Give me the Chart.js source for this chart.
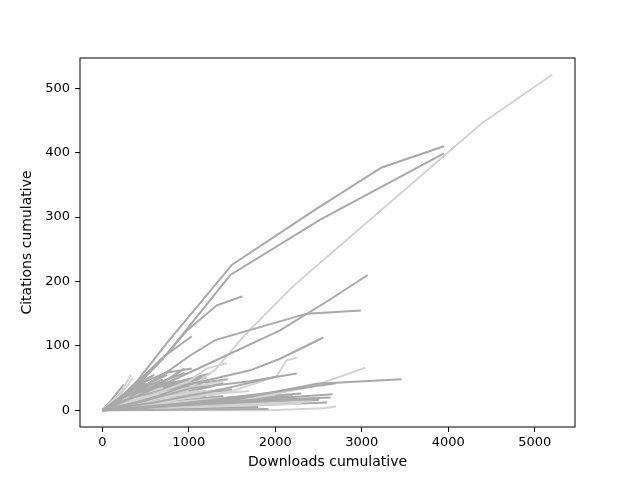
<!DOCTYPE html>
<html>
<head>
<meta charset="utf-8">
<script src="https://cdn.jsdelivr.net/npm/chart.js@4"></script>
<style>
  html, body { margin: 0; padding: 0; background: #fff; }
</style>
</head>
<body>
<canvas id="myChart" width="640" height="480"></canvas>
<script>
const ctx = document.getElementById('myChart').getContext('2d');

// Axis ticks
const xTicks = [0, 1000, 2000, 3000, 4000, 5000];
const yTicks = [0, 100, 200, 300, 400, 500];

// Papers drawn in dark gray: cumulative downloads / citations per paper
const darkDownloads = [
  [0, 150, 400, 750, 1500, 2480, 3230, 3950],
  [0, 200, 450, 750, 1480, 2520, 3950],
  [0, 300, 700, 980, 1324, 1620],
  [0, 400, 1016, 2055, 2633, 3068],
  [0, 300, 700, 1016, 1305, 2363, 2990],
  [0, 500, 1000, 1709, 2055, 2556],
  [0, 300, 708, 1035],
  [0, 500, 1016, 1709, 2248],
  [0, 800, 1709, 2480, 3460],
  [0, 700, 1500, 2663],
  [0, 900, 1800, 2702],
  [0, 1000, 2510],
  [0, 1000, 1921],
  [0, 600, 1300, 2036]
];
const darkCitations = [
  [0, 12, 45, 105, 226, 313, 377, 410],
  [0, 15, 45, 88, 210, 296, 399],
  [0, 25, 80, 124, 163, 177],
  [0, 22, 59, 124, 172, 210],
  [0, 18, 55, 85, 109, 150, 155],
  [0, 15, 40, 62, 80, 113],
  [0, 30, 83, 115],
  [0, 15, 34, 45, 57],
  [0, 8, 21, 41, 48],
  [0, 6, 14, 25],
  [0, 10, 25, 42],
  [0, 8, 18],
  [0, 1, 2],
  [0, 12, 30, 53]
];

// the dense bundle near the origin (dark gray)
const bundleDownloads = [
  [0, 400, 900], [0, 350, 800, 1100], [0, 500, 1000], [0, 300, 600, 900],
  [0, 400, 800, 1200], [0, 600, 1300], [0, 250, 700], [0, 450, 1000, 1400],
  [0, 300, 700, 1200], [0, 700, 1500, 2100], [0, 800, 1600, 2500], [0, 500, 1200, 2000],
  [0, 350, 750], [0, 200, 500], [0, 150, 350], [0, 300, 650, 1000, 1450],
  [0, 600, 1100], [0, 200, 450, 850], [0, 400, 900, 1300], [0, 1000, 1800],
  [0, 100, 250], [0, 500, 950], [0, 600, 1200], [0, 700, 1300],
  [0, 250, 600, 1000], [0, 400, 727, 1035], [0, 900, 1700, 2300], [0, 800, 1500, 2640],
  [0, 600, 1400, 2200], [0, 500, 900, 1250], [0, 350, 700, 1150],
  [0, 200, 400, 600], [0, 250, 500, 800], [0, 300, 550], [0, 400, 700, 950],
  [0, 600, 900, 1200], [0, 500, 800, 1150], [0, 700, 1100, 1500], [0, 800, 1300, 1800],
  [0, 1000, 1600, 2200], [0, 1200, 2000, 2600], [0, 600, 1100, 1700], [0, 900, 1400],
  [0, 350, 600, 850], [0, 250, 450], [0, 150, 300, 500]
];
const bundleCitations = [
  [0, 30, 45], [0, 25, 40, 50], [0, 20, 35], [0, 15, 35, 60],
  [0, 10, 22, 30], [0, 15, 25], [0, 20, 48], [0, 18, 30, 42],
  [0, 12, 20, 22], [0, 8, 14, 20], [0, 6, 12, 16], [0, 4, 8, 12],
  [0, 30, 55], [0, 20, 42], [0, 12, 30], [0, 20, 32, 40, 48],
  [0, 30, 48], [0, 10, 28, 45], [0, 5, 10, 13], [0, 3, 5],
  [0, 15, 40], [0, 25, 65], [0, 35, 52], [0, 20, 38],
  [0, 8, 18, 26], [0, 30, 58, 65], [0, 10, 20, 26], [0, 8, 14, 20],
  [0, 10, 16, 22], [0, 28, 45, 57], [0, 15, 30, 40],
  [0, 20, 40, 55], [0, 25, 45, 62], [0, 30, 52], [0, 25, 45, 58],
  [0, 30, 42, 50], [0, 22, 35, 45], [0, 18, 26, 32], [0, 12, 18, 24],
  [0, 8, 12, 15], [0, 5, 9, 12], [0, 6, 9, 11], [0, 15, 22],
  [0, 12, 22, 30], [0, 6, 12], [0, 5, 12, 18]
];

// Papers drawn in light gray
const lightDownloads = [
  [0, 500, 900, 1300, 1640, 2200, 4380, 5200],
  [0, 800, 1500, 1709, 2017, 2132, 2248],
  [0, 1500, 2402, 3040],
  [0, 1200, 2421],
  [0, 1940, 2556, 2702],
  [0, 150, 300, 350],
  [0, 300, 700],
  [0, 400, 900, 1300],
  [0, 500, 1100],
  [0, 200, 600, 1000],
  [0, 700, 1500],
  [0, 350, 800],
  [0, 900, 1800, 2300],
  [0, 300, 800, 1400],
  [0, 600, 1000, 1700],
  [0, 500, 1000, 1209, 1440],
  [0, 200, 330],
  [0, 600, 1300, 2000],
  [0, 400, 800, 1200]
];
const lightCitations = [
  [0, 8, 25, 62, 116, 192, 445, 521],
  [0, 15, 30, 39, 53, 78, 81],
  [0, 12, 36, 66],
  [0, 8, 14],
  [0, 0, 3, 6],
  [0, 15, 40, 50],
  [0, 20, 35],
  [0, 10, 20, 28],
  [0, 15, 30],
  [0, 12, 24, 30],
  [0, 20, 35],
  [0, 6, 12],
  [0, 4, 8, 10],
  [0, 14, 30, 45],
  [0, 12, 22, 30],
  [0, 20, 45, 65, 73],
  [0, 25, 55],
  [0, 10, 18, 24],
  [0, 18, 30, 38]
];

function toSets(xs, ys, color) {
  return xs.map((row, i) => ({
    data: row.map((v, j) => ({ x: v, y: ys[i][j] })),
    showLine: true,
    borderColor: color,
    backgroundColor: color,
    borderWidth: 2,
    pointRadius: 0,
    pointHoverRadius: 0,
    tension: 0,
    fill: false
  }));
}

const datasets = [
  ...toSets(darkDownloads, darkCitations, '#a9a9a9'),
  ...toSets(lightDownloads, lightCitations, '#d3d3d3'),
  ...toSets(bundleDownloads, bundleCitations, '#a9a9a9')
];

// matplotlib style box around the plot
const frame = {
  id: 'frame',
  afterDatasetsDraw(chart) {
    const a = chart.chartArea;
    const c = chart.ctx;
    c.save();
    c.strokeStyle = '#000';
    c.lineWidth = 1;
    c.strokeRect(a.left, a.top, a.right - a.left, a.bottom - a.top);
    c.restore();
  }
};

const tickFont = { family: 'DejaVu Sans', size: 13 };
const titleFont = { family: 'DejaVu Sans', size: 14 };

new Chart(ctx, {
  type: 'scatter',
  data: { datasets },
  options: {
    responsive: false,
    animation: false,
    layout: { padding: { top: 58, right: 65, left: 0, bottom: 0 } },
    plugins: {
      legend: { display: false },
      tooltip: { enabled: false }
    },
    scales: {
      x: {
        type: 'linear',
        min: -258,
        max: 5465,
        afterFit: s => { s.height = 53; },
        afterBuildTicks: s => { s.ticks = xTicks.map(v => ({ value: v })); },
        border: { display: false },
        grid: { drawOnChartArea: false, tickLength: 5, tickColor: '#000', tickWidth: 1 },
        ticks: { color: '#000', font: tickFont, padding: 3, maxRotation: 0, callback: v => String(v) },
        title: {
          display: true, text: 'Downloads cumulative', color: '#000', font: titleFont,
          padding: { top: 0, bottom: 9.6 }
        }
      },
      y: {
        type: 'linear',
        min: -26,
        max: 547,
        afterFit: s => { s.width = 80; },
        afterBuildTicks: s => { s.ticks = yTicks.map(v => ({ value: v })); },
        border: { display: false },
        grid: { drawOnChartArea: false, tickLength: 5, tickColor: '#000', tickWidth: 1 },
        ticks: { color: '#000', font: tickFont, padding: 5, callback: v => String(v) },
        title: {
          display: true, text: 'Citations cumulative', color: '#000', font: titleFont,
          padding: { top: 19, bottom: 0 }
        }
      }
    }
  },
  plugins: [frame]
});
</script>
</body>
</html>
